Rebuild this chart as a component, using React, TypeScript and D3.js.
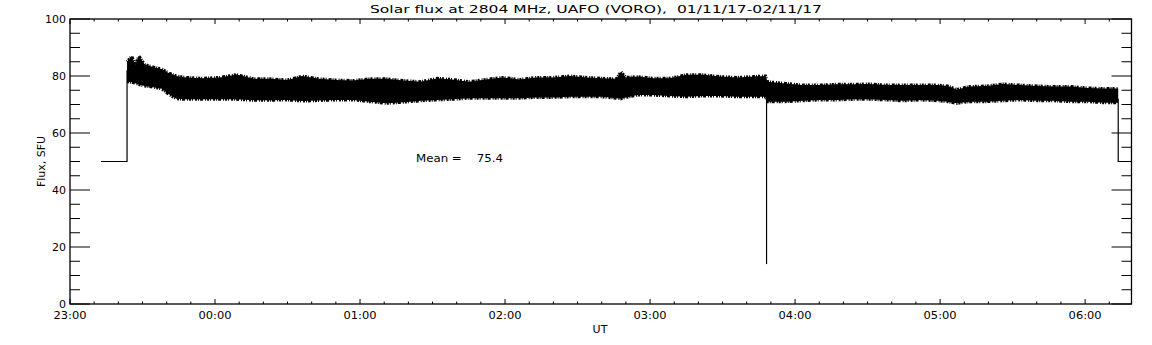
import React from "react";
import * as d3 from "d3";

// minutes since 23:00 UT
const bandTime = [23.6, 25.5, 27, 28.5, 31, 35, 38, 41, 44, 48, 55, 62, 69, 76, 83, 90, 96, 103, 110, 117, 124, 131, 138, 145, 152, 158, 165, 172, 179, 186, 193, 200, 207, 214, 220, 226, 228, 230, 235, 241, 248, 255, 262, 269, 276, 283, 287.8, 288.6, 296, 303, 310, 317, 324, 331, 338, 345, 352, 359, 363, 367, 372, 379, 386, 393, 400, 407, 414, 421, 428, 433.7];
const bandTop = [85, 87, 84, 87, 84, 83, 82.5, 81, 80, 79.5, 79.2, 79.5, 80.5, 79, 79, 78.6, 80, 79, 78.6, 78.4, 79, 79, 78.4, 78, 79.2, 78.8, 78, 78.8, 79.5, 78.8, 79.5, 79.5, 80, 79.5, 79.2, 79, 81.5, 79.5, 79.8, 79.2, 79.2, 80.4, 80.4, 79.8, 79.5, 79.8, 80, 78, 77.4, 76.8, 76.8, 77.1, 77.1, 77.2, 76.8, 76.8, 76.8, 76.8, 76.5, 75.3, 76.3, 76.5, 77.2, 76.8, 76.5, 76.3, 76.3, 75.8, 75.6, 75.6];
const bandBottom = [78, 77.8, 77.5, 77, 76.5, 76, 75.5, 73.5, 72, 71.8, 71.8, 71.8, 71.8, 71.5, 71.5, 71.6, 71.2, 71.4, 71.6, 71.6, 71, 70.4, 70.8, 71.3, 71.6, 71.8, 72.2, 72.2, 72.2, 72.2, 72.5, 72.5, 72.7, 72.7, 72.7, 72.2, 72, 72.5, 73.3, 73.3, 73, 72.7, 73, 73, 72.7, 72.7, 72.7, 71, 71, 71.3, 71.6, 71.6, 71.8, 71.8, 71.6, 71.3, 71.6, 71.3, 71, 70.4, 71, 71, 71.3, 71.6, 71.3, 71.3, 71, 71, 70.6, 70.6];

const leadInTime = [12.8, 23.6, 23.6];
const leadInFlux = [50, 50, 82];
const dropTime = [288.2, 288.2];
const dropFlux = [73, 14];
const tailTime = [433.7, 433.7, 439.2];
const tailFlux = [72, 50, 50];

const xTickLabels = ["23:00", "00:00", "01:00", "02:00", "03:00", "04:00", "05:00", "06:00"];
const yTickValues = [0, 20, 40, 60, 80, 100];
const meanValue = 75.4;

const W = 1152, H = 345;
const L = 70, R = 1131.5, T = 19, B = 304;
const font = "DejaVu Sans, sans-serif";

export default function App() {
  const x = d3.scaleLinear().domain([0, 439.2]).range([L, R]);
  const y = d3.scaleLinear().domain([0, 100]).range([B, T]);

  const band = bandTime.map((t, i) => ({ t, top: bandTop[i], bot: bandBottom[i] }));
  const area = d3.area<any>().x(d => x(d.t)).y0(d => y(d.bot)).y1(d => y(d.top));
  const topLine = d3.line<any>().x(d => x(d.t)).y(d => y(d.top));
  const botLine = d3.line<any>().x(d => x(d.t)).y(d => y(d.bot));
  const line = d3.line<any>().x(d => x(d[0])).y(d => y(d[1]));
  const pairs = (a: number[], b: number[]) => a.map((v, i) => [v, b[i]]);

  const majorX = d3.range(0, 440, 60);
  const minorX = d3.range(0, 440, 10).filter(v => v % 60 !== 0);
  const minorY = d3.range(0, 101, 5).filter(v => v % 20 !== 0);

  return (
    <svg width={W} height={H} style={{ position: "absolute", left: 0, top: 0, background: "#fff", whiteSpace: "pre" }} fontFamily={font} fontSize={11}>
      <rect width={W} height={H} fill="#fff" />
      <text x={596} y={13} textAnchor="middle" textLength={452} lengthAdjust="spacingAndGlyphs" xmlSpace="preserve">{"Solar flux at 2804 MHz, UAFO (VORO),  01/11/17-02/11/17"}</text>

      {/* data */}
      <path d={area(band) || ""} fill="#000" />
      <path d={topLine(band) || ""} fill="none" stroke="#000" strokeWidth={3} strokeDasharray="1 1 2 1 1 2 3 1 1 1 2 2" />
      <path d={botLine(band) || ""} fill="none" stroke="#000" strokeWidth={3} strokeDasharray="2 1 1 1 3 2 1 1 2 1 1 2" />
      <path d={line(pairs(leadInTime, leadInFlux) as any) || ""} fill="none" stroke="#000" strokeWidth={1.2} />
      <path d={line(pairs(dropTime, dropFlux) as any) || ""} fill="none" stroke="#000" strokeWidth={1.2} />
      <path d={line(pairs(tailTime, tailFlux) as any) || ""} fill="none" stroke="#000" strokeWidth={1.2} />

      {/* frame */}
      <rect x={L} y={T} width={R - L} height={B - T} fill="none" stroke="#000" strokeWidth={1.3} />

      {/* x ticks */}
      {majorX.map(v => (
        <g key={"mx" + v}>
          <line x1={x(v)} x2={x(v)} y1={B} y2={B - 5} stroke="#000" />
          <line x1={x(v)} x2={x(v)} y1={T} y2={T + 5} stroke="#000" />
        </g>
      ))}
      {minorX.map(v => (
        <g key={"nx" + v}>
          <line x1={x(v)} x2={x(v)} y1={B} y2={B - 2.5} stroke="#000" />
          <line x1={x(v)} x2={x(v)} y1={T} y2={T + 2.5} stroke="#000" />
        </g>
      ))}
      {majorX.map((v, i) => (
        <text key={"lx" + v} x={x(v)} y={319} textAnchor="middle" textLength={33} lengthAdjust="spacingAndGlyphs">{xTickLabels[i]}</text>
      ))}

      {/* y ticks */}
      {yTickValues.map(v => (
        <g key={"my" + v}>
          <line x1={L} x2={L + 20} y1={y(v)} y2={y(v)} stroke="#000" />
          <line x1={R} x2={R - 20} y1={y(v)} y2={y(v)} stroke="#000" />
          <text x={66} y={y(v) + 4} textAnchor="end">{String(v)}</text>
        </g>
      ))}
      {minorY.map(v => (
        <g key={"ny" + v}>
          <line x1={L} x2={L + 10} y1={y(v)} y2={y(v)} stroke="#000" />
          <line x1={R} x2={R - 10} y1={y(v)} y2={y(v)} stroke="#000" />
        </g>
      ))}

      <text x={600} y={333} textAnchor="middle">UT</text>
      <text transform={`translate(45, ${(T + B) / 2}) rotate(-90)`} textAnchor="middle">Flux, SFU</text>
      <text x={416} y={162} textLength={87} lengthAdjust="spacingAndGlyphs" xmlSpace="preserve">{`Mean =    ${meanValue.toFixed(1)}`}</text>
    </svg>
  );
}
